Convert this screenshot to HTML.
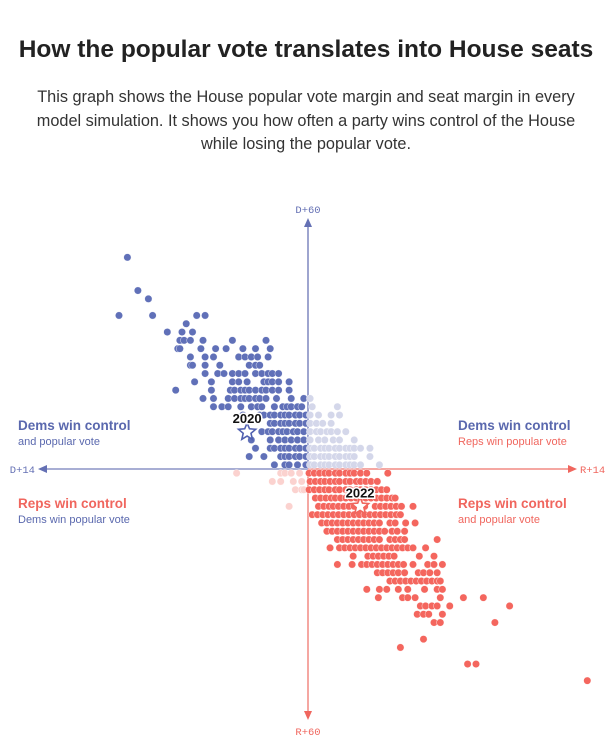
<!DOCTYPE html>
<html><head><meta charset="utf-8"><style>
body{margin:0;background:#fff;width:612px;height:753px;overflow:hidden;font-family:"Liberation Sans",sans-serif}
h1{position:absolute;left:0;width:612px;top:36px;margin:0;text-align:center;font-size:24.5px;font-weight:bold;color:#222;white-space:nowrap}
.sub{position:absolute;left:0;width:612px;top:86px;text-align:center;font-size:16.3px;line-height:23.5px;color:#333}
svg{position:absolute;left:0;top:0}
</style></head><body>
<h1>How the popular vote translates into House seats</h1>
<div class="sub">This graph shows the House popular vote margin and seat margin in every<br>model simulation. It shows you how often a party wins control of the House<br>while losing the popular vote.</div>
<svg id="chart" width="612" height="753"></svg>
<script>
// D seat margin per row (positive = Dem), D popular vote margin per dot (positive = Dem)
const seatRows=[51,43,41,37,35,33,31,29,27,25,23,21,19,17,15,13,11,9,7,5,3,1,-1,-3,-5,-7,-9,-11,-13,-15,-17,-19,-21,-23,-25,-27,-29,-31,-33,-35,-37,-41,-43,-47,-51];
const voteRows=[
[8.6],[8.1],[7.6],[9.0,7.4,5.3,4.9],[5.8],[6.7,6.0,5.5],
[6.1,5.9,5.6,5.0,3.6,2.0],
[6.2,6.1,5.1,4.4,3.9,3.1,2.5,1.8],
[5.6,4.9,4.5,3.3,3.0,2.7,2.4,1.9],
[5.6,5.5,4.9,4.2,2.8,2.5,2.3],
[4.9,4.3,4.0,3.6,3.3,3.0,2.5,2.2,1.9,1.7,1.4],
[5.4,4.6,3.6,3.3,2.9,2.1,1.9,1.7,1.4,0.9],
[6.3,4.6,3.7,3.5,3.2,3.0,2.8,2.5,2.2,2.0,1.7,1.4,0.9],
[5.0,4.5,3.8,3.5,3.2,3.0,2.8,2.5,2.3,2.0,1.5,0.8,0.2,-0.1],
[4.5,4.1,3.8,3.2,2.7,2.4,2.2,1.6,1.2,1.0,0.8,0.5,0.3,-0.2,-1.4],
[3.1,2.3,2.1,1.8,1.6,1.3,1.1,0.9,0.6,0.4,0.1,-0.1,-0.5,-1.1,-1.5],
[1.8,1.6,1.3,1.1,0.9,0.6,0.4,0.1,-0.1,-0.4,-0.7,-1.1],
[2.2,1.9,1.7,1.4,1.2,1.0,0.7,0.5,0.2,-0.1,-0.4,-0.6,-0.9,-1.1,-1.4,-1.8],
[2.7,1.8,1.4,1.1,0.8,0.5,0.2,-0.1,-0.5,-0.8,-1.2,-1.5,-2.2],
[2.5,1.8,1.6,1.3,1.1,0.9,0.6,0.4,0.1,-0.1,-0.3,-0.6,-0.8,-1.0,-1.3,-1.5,-1.8,-2.0,-2.2,-2.5,-2.95],
[2.8,2.1,1.3,1.1,0.9,0.6,0.4,0.1,-0.1,-0.3,-0.6,-0.8,-1.0,-1.3,-1.5,-1.8,-2.0,-2.2,-2.95],
[1.6,1.1,0.9,0.5,0.1,-0.1,-0.3,-0.6,-0.8,-1.0,-1.3,-1.5,-1.8,-2.0,-2.2,-2.5,-3.4],
[3.4,1.3,1.1,0.8,0.4,-0.05,-0.3,-0.55,-0.8,-1.0,-1.3,-1.5,-1.8,-2.0,-2.2,-2.5,-2.8,-3.8],
[1.7,1.3,0.7,0.3,-0.1,-0.35,-0.6,-0.8,-1.05,-1.3,-1.5,-1.8,-2.0,-2.3,-2.5,-2.75,-3.0,-3.3],
[0.6,0.3,0.2,-0.05,-0.3,-0.55,-0.8,-1.0,-1.3,-1.5,-1.8,-2.0,-2.3,-2.5,-2.75,-3.0,-3.25,-3.5,-3.75],
[-0.35,-0.6,-0.85,-1.1,-1.3,-1.55,-1.8,-2.05,-2.3,-2.5,-2.75,-3.0,-3.25,-3.5,-3.75,-4.0,-4.15],
[0.9,-0.5,-0.75,-1.0,-1.2,-1.45,-1.7,-1.95,-2.2,-2.45,-2.7,-3.2,-3.45,-3.7,-3.95,-4.2,-4.45,-5.0],
[-0.2,-0.45,-0.7,-0.95,-1.2,-1.45,-1.7,-1.95,-2.2,-2.45,-2.7,-2.95,-3.2,-3.45,-3.7,-3.95,-4.2,-4.4],
[-0.65,-0.9,-1.15,-1.4,-1.65,-1.9,-2.15,-2.4,-2.65,-2.9,-3.15,-3.4,-3.9,-4.15,-4.65,-5.1],
[-0.9,-1.15,-1.4,-1.65,-1.9,-2.15,-2.4,-2.65,-2.9,-3.15,-3.4,-3.65,-4.0,-4.25,-4.6],
[-1.4,-1.65,-1.9,-2.15,-2.4,-2.65,-2.9,-3.15,-3.4,-3.9,-4.15,-4.4,-4.6,-6.15],
[-1.05,-1.5,-1.75,-2.0,-2.25,-2.5,-2.75,-3.0,-3.25,-3.5,-3.75,-4.0,-4.25,-4.5,-4.75,-5.0,-5.6],
[-2.15,-2.85,-3.1,-3.35,-3.6,-3.85,-4.1,-5.3,-6.0],
[-1.4,-2.1,-2.55,-2.8,-3.05,-3.3,-3.55,-3.8,-4.05,-4.3,-4.55,-5.0,-5.7,-6.0,-6.4],
[-3.3,-3.55,-3.8,-4.05,-4.3,-4.6,-5.25,-5.5,-5.8,-6.15],
[-3.9,-4.15,-4.4,-4.65,-4.9,-5.15,-5.4,-5.65,-5.9,-6.15,-6.3],
[-2.8,-3.4,-3.75,-4.3,-4.75,-5.55,-6.15,-6.4],
[-3.35,-4.5,-4.75,-5.1,-6.3,-7.4,-8.35],
[-5.35,-5.6,-5.9,-6.15,-6.75,-9.6],
[-5.2,-5.5,-5.75,-6.4],
[-6.0,-6.3,-8.9],[-5.5],[-4.4],[-7.6,-8.0],[-13.3]
];
const markerYears=["2020","2022"];
const markerVotes=[2.9,-2.48];
const markerSeats=[8.9,-9];
const axisLabels=["D+60","R+60","D+14","R+14"];

const NS="http://www.w3.org/2000/svg";
const svg=document.getElementById('chart');
const cx=308,cy=469;
const xS=v=>cx-v*21;      // D margin to the left
const yS=s=>cy-s*4.15;    // D seats up
function mk(t,a,p){const e=document.createElementNS(NS,t);for(const k in a)e.setAttribute(k,a[k]);(p||svg).appendChild(e);return e;}

const xL=38,xR=577;
const ax=mk('g',{});


mk('line',{x1:cx,y1:yS(60)+4,x2:cx,y2:cy,stroke:'#7e87bf','stroke-width':1.5},ax);
mk('line',{x1:cx,y1:cy,x2:cx,y2:yS(-60)-4,stroke:'#f28a83','stroke-width':1.5},ax);
mk('line',{x1:xL+4,y1:cy,x2:cx,y2:cy,stroke:'#8c94c6','stroke-width':1.5},ax);
mk('line',{x1:cx,y1:cy,x2:xR-4,y2:cy,stroke:'#f28a83','stroke-width':1.5},ax);
mk('path',{d:`M${cx} ${yS(60)-2} l-4 9 h8z`,fill:'#6470b4'},ax);
mk('path',{d:`M${cx} ${yS(-60)+2} l-4 -9 h8z`,fill:'#f0665e'},ax);
mk('path',{d:`M${xL} ${cy} l9 -4 v8z`,fill:'#6470b4'},ax);
mk('path',{d:`M${xR} ${cy} l-9 -4 v8z`,fill:'#f0665e'},ax);
const lp=[[cx,yS(60)-7,'middle','#6470b4'],[cx,yS(-60)+17,'middle','#f0665e'],[xL-3,cy+4,'end','#6470b4'],[xR+3,cy+4,'start','#f0665e']];
const ln=['axis-label-top','axis-label-bottom','axis-label-left','axis-label-right'];
axisLabels.forEach((t,i)=>{const e=mk('text',{x:lp[i][0],y:lp[i][1],'text-anchor':lp[i][2],fill:lp[i][3],'font-family':'Liberation Mono, monospace','font-size':10.5},ax);e.textContent=t;

});

const dots=mk('g',{});


seatRows.forEach((s,i)=>{voteRows[i].forEach(v=>{
 let c;
 if(s>0) c=v>0?'#6070b8':'#d4d7ea'; else c=v>0?'#fbd2cf':'#f4665e';
 const d=mk('circle',{cx:xS(v),cy:yS(s),r:3.7,fill:c,stroke:'#fff','stroke-width':0.4},dots);
 
 
});});

function star(x,y,r){let p='';for(let k=0;k<10;k++){const a=-Math.PI/2+k*Math.PI/5,rr=k%2?r*0.45:r;p+=(k?'L':'M')+(x+rr*Math.cos(a)).toFixed(1)+' '+(y+rr*Math.sin(a)).toFixed(1);}return p+'Z';}
markerYears.forEach((yr,i)=>{
 const x=xS(markerVotes[i]),y=yS(markerSeats[i]);
 const g=mk('g',{});
 
 
 mk('path',{d:star(x,y,9),fill:'#fff',stroke:i?'#f0665e':'#5060b0','stroke-width':1.6},g);
 const t=mk('text',{x:x,y:y-9,'text-anchor':'middle','font-size':13,'font-weight':'bold',fill:'#111',stroke:'#fff','stroke-width':3,'paint-order':'stroke'},g);
 t.textContent=yr;
});

const q=[[18,'Dems win control','and popular vote','#5a68ae','#5a68ae',426],[458,'Dems win control','Reps win popular vote','#5a68ae','#f0665e',426],[18,'Reps win control','Dems win popular vote','#f0665e','#5a68ae',504],[458,'Reps win control','and popular vote','#f0665e','#f0665e',504]];
const qn=['quadrant-label-top-left','quadrant-label-top-right','quadrant-label-bottom-left','quadrant-label-bottom-right'];
q.forEach((a,i)=>{const g=mk('g',{});
 
 
 mk('text',{x:a[0],y:a[5]+4,'font-size':13.5,'font-weight':'bold',fill:a[3]},g).textContent=a[1];
 mk('text',{x:a[0],y:a[5]+19,'font-size':11,fill:a[4]},g).textContent=a[2];
});
</script>
</body></html>
